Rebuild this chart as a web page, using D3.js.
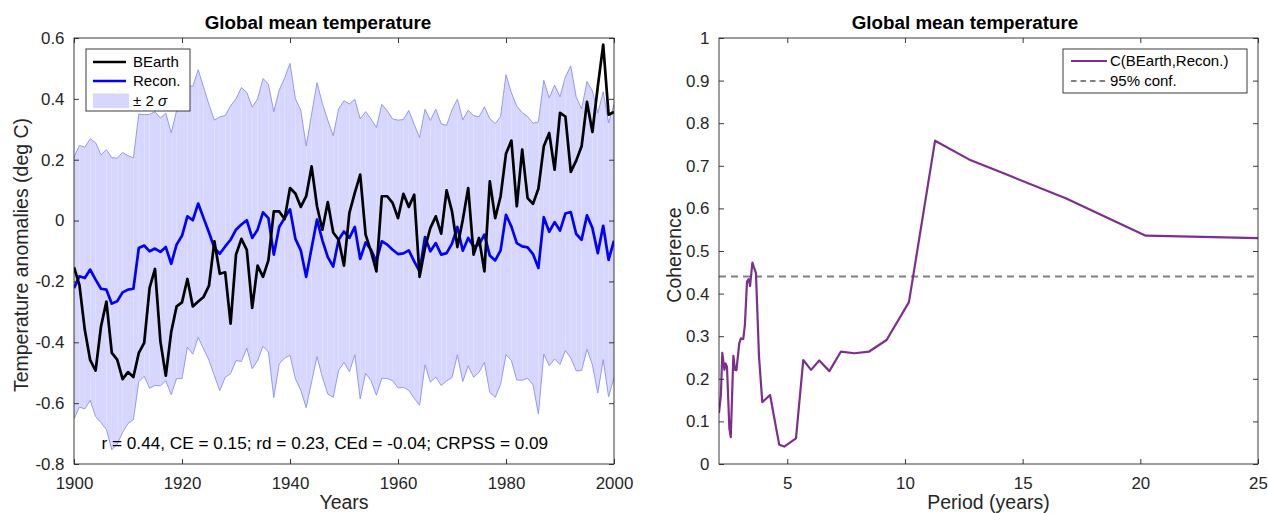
<!DOCTYPE html>
<html>
<head>
<meta charset="utf-8">
<script src="https://cdn.jsdelivr.net/npm/d3@7/dist/d3.min.js"></script>
<style>
  body { margin: 0; background: #fff; }
  svg { display: block; }
  text { font-family: "Liberation Sans", Arial, Helvetica, sans-serif; }
</style>
</head>
<body>
<svg id="fig" width="1268" height="513"></svg>
<script>
// ---- Left panel: annual global mean temperature anomalies, 1900-2000 ----
const firstYear = 1900;
const bearth = [
  -0.153,-0.211,-0.359,-0.459,-0.493,-0.348,-0.266,-0.435,-0.457,-0.521,
  -0.498,-0.514,-0.435,-0.402,-0.221,-0.159,-0.397,-0.510,-0.366,-0.282,
  -0.269,-0.192,-0.282,-0.266,-0.251,-0.214,-0.068,-0.175,-0.170,-0.339,
  -0.112,-0.060,-0.096,-0.287,-0.148,-0.185,-0.131, 0.030, 0.030, 0.005,
   0.107, 0.089, 0.045, 0.080, 0.178, 0.047,-0.030, 0.061,-0.039,-0.063,
  -0.148, 0.025, 0.091, 0.151,-0.046,-0.101,-0.167, 0.080, 0.080, 0.058,
   0.008, 0.088, 0.045, 0.085,-0.185,-0.090,-0.024, 0.014,-0.043, 0.099,
   0.030,-0.087, 0.003, 0.107,-0.112,-0.057,-0.167, 0.129, 0.008, 0.080,
   0.220, 0.263, 0.047, 0.233, 0.074, 0.055, 0.105, 0.244, 0.288, 0.167,
   0.354, 0.342, 0.160, 0.197, 0.244, 0.390, 0.291, 0.441, 0.578, 0.348,
   0.357
];
const recon = [
  -0.222,-0.183,-0.189,-0.161,-0.194,-0.224,-0.227,-0.273,-0.265,-0.236,
  -0.227,-0.224,-0.090,-0.082,-0.101,-0.092,-0.103,-0.087,-0.142,-0.079,
  -0.050, 0.014, 0.001, 0.056, 0.008,-0.039,-0.090,-0.109,-0.085,-0.063,
  -0.030,-0.013, 0.001,-0.057,-0.030, 0.027, 0.008,-0.112,-0.021, 0.008,
   0.037,-0.060,-0.098,-0.185,-0.090, 0.003,-0.065,-0.120,-0.151,-0.063,
  -0.036,-0.057,-0.021,-0.126,-0.072,-0.096,-0.134,-0.068,-0.079,-0.096,
  -0.110,-0.108,-0.098,-0.134,-0.167,-0.054,-0.101,-0.074,-0.112,-0.107,
  -0.076,-0.021,-0.099,-0.057,-0.085,-0.079,-0.046,-0.115,-0.131,-0.098,
   0.019,-0.020,-0.074,-0.085,-0.088,-0.110,-0.156, 0.011,-0.037,-0.005,
  -0.033, 0.023, 0.028,-0.044,-0.063, 0.017,-0.024,-0.107,-0.017,-0.129,
  -0.066
];
// two standard deviations of the reconstruction ensemble
const twoSigma = [
  0.43,0.43,0.43,0.43,0.45,0.44,0.46,0.48,0.47,0.46,
  0.44,0.43,0.44,0.43,0.45,0.45,0.44,0.44,0.43,0.44,
  0.47,0.43,0.44,0.44,0.43,0.42,0.42,0.45,0.43,0.44,
  0.43,0.45,0.42,0.43,0.43,0.44,0.44,0.47,0.45,0.46,
  0.48,0.46,0.46,0.43,0.44,0.45,0.45,0.45,0.43,0.43,
  0.43,0.44,0.42,0.46,0.43,0.43,0.44,0.45,0.44,0.43,
  0.44,0.44,0.46,0.45,0.44,0.42,0.43,0.44,0.43,0.42,
  0.44,0.42,0.43,0.42,0.43,0.42,0.42,0.45,0.45,0.44,
  0.46,0.44,0.45,0.44,0.43,0.43,0.48,0.45,0.44,0.45,
  0.44,0.45,0.48,0.45,0.43,0.44,0.45,0.46,0.44,0.45,
  0.45
];
const skillText = "r = 0.44, CE = 0.15; rd = 0.23, CEd = -0.04; CRPSS = 0.09";
const leftXTicks = [1900, 1920, 1940, 1960, 1980, 2000];
const leftYTicks = [-0.8, -0.6, -0.4, -0.2, 0, 0.2, 0.4, 0.6];
const leftYTickLabels = ["-0.8", "-0.6", "-0.4", "-0.2", "0", "0.2", "0.4", "0.6"];

// ---- Right panel: coherence between BEarth and the reconstruction ----
const coherencePeriod = [
  2.10,2.18,2.24,2.33,2.38,2.44,2.54,2.60,2.71,2.78,
  2.84,2.96,3.03,3.13,3.20,3.29,3.36,3.42,3.52,3.60,
  3.67,3.80,3.94,4.27,4.66,4.87,5.37,5.68,6.01,6.36,
  6.79,7.28,7.85,8.48,9.22,10.17,11.28,12.72,14.43,16.83,
  20.23,25.00
];
const coherenceValue = [
  0.120,0.162,0.261,0.221,0.236,0.228,0.084,0.063,0.254,0.221,
  0.220,0.283,0.295,0.293,0.326,0.428,0.434,0.418,0.473,0.459,
  0.448,0.252,0.145,0.162,0.045,0.041,0.060,0.244,0.221,0.243,
  0.218,0.264,0.260,0.264,0.291,0.380,0.759,0.715,0.677,0.624,
  0.536,0.530
];
const confLevel = 0.44;
const rightXTicks = [5, 10, 15, 20, 25];
const rightYTicks = [0, 0.1, 0.2, 0.3, 0.4, 0.5, 0.6, 0.7, 0.8, 0.9, 1];
const rightYTickLabels = ["0", "0.1", "0.2", "0.3", "0.4", "0.5", "0.6", "0.7", "0.8", "0.9", "1"];

// ---- styling ----
const AX = "#262626";
const BAND_FILL = "#d6d6ff";
const BAND_EDGE = "#8c8cff";
const PURPLE = "#7e2f8e";
const TICK_FONT = 16.9;
const LABEL_FONT = 19.5;
const TITLE_FONT = 18.8;
const LEGEND_FONT = 15;

const svg = d3.select("#fig");
const years = bearth.map((_, i) => firstYear + i);

const L = { left: 74, right: 614, top: 38, bottom: 464, titleX: 318 };
const R = { left: 719, right: 1258, top: 38, bottom: 464, titleX: 965 };

const xL = d3.scaleLinear().domain([1900, 2000]).range([L.left, L.right]);
const yL = d3.scaleLinear().domain([-0.8, 0.6]).range([L.bottom, L.top]);
const xR = d3.scaleLinear().domain([2.1, 25]).range([R.left, R.right]);
const yR = d3.scaleLinear().domain([0, 1]).range([R.bottom, R.top]);

function clip(id, box) {
  svg.append("clipPath").attr("id", id).append("rect")
    .attr("x", box.left).attr("y", box.top)
    .attr("width", box.right - box.left).attr("height", box.bottom - box.top);
}
clip("clipL", L);
clip("clipR", R);

function drawAxes(box, x, y, xt, yt, yLabels) {
  const g = svg.append("g");
  const styleAxis = sel => {
    sel.select(".domain").remove();
    sel.selectAll(".tick line").attr("stroke", AX).attr("stroke-width", 0.9);
    sel.selectAll(".tick text").attr("fill", AX).style("font-size", TICK_FONT + "px");
  };
  g.append("g").attr("transform", `translate(0,${box.bottom})`)
    .call(d3.axisBottom(x).tickValues(xt).tickFormat(d3.format("d"))
      .tickSizeInner(-5).tickSizeOuter(0).tickPadding(13.5))
    .call(styleAxis);
  g.append("g").attr("transform", `translate(0,${box.top})`)
    .call(d3.axisTop(x).tickValues(xt).tickFormat("").tickSizeInner(-5).tickSizeOuter(0))
    .call(styleAxis);
  g.append("g").attr("transform", `translate(${box.left},0)`)
    .call(d3.axisLeft(y).tickValues(yt).tickFormat((d, i) => yLabels[i])
      .tickSizeInner(-5).tickSizeOuter(0).tickPadding(9.5))
    .call(styleAxis);
  g.append("g").attr("transform", `translate(${box.right},0)`)
    .call(d3.axisRight(y).tickValues(yt).tickFormat("").tickSizeInner(-5).tickSizeOuter(0))
    .call(styleAxis);
  g.selectAll("g").attr("font-family", null);
  svg.append("rect")
    .attr("x", box.left).attr("y", box.top)
    .attr("width", box.right - box.left).attr("height", box.bottom - box.top)
    .attr("fill", "none").attr("stroke", AX).attr("stroke-width", 0.9);
}

// ================= left panel =================
const band = svg.append("g").attr("clip-path", "url(#clipL)");
const upper = recon.map((v, i) => v + twoSigma[i]);
const lower = recon.map((v, i) => v - twoSigma[i]);
// shaded ±2σ envelope, one quad per year interval
for (let i = 0; i < years.length - 1; i++) {
  const pts = [
    [xL(years[i]), yL(upper[i])], [xL(years[i + 1]), yL(upper[i + 1])],
    [xL(years[i + 1]), yL(lower[i + 1])], [xL(years[i]), yL(lower[i])]
  ];
  band.append("polygon").attr("points", pts.map(p => p.join(",")).join(" "))
    .attr("fill", BAND_FILL).attr("stroke", "none");
}
const yearLine = d3.line().x((d, i) => xL(years[i])).y(d => yL(d));
band.append("path").datum(upper).attr("d", yearLine)
  .attr("fill", "none").attr("stroke", BAND_EDGE).attr("stroke-width", 0.9);
band.append("path").datum(lower).attr("d", yearLine)
  .attr("fill", "none").attr("stroke", BAND_EDGE).attr("stroke-width", 0.9);

const series = svg.append("g").attr("clip-path", "url(#clipL)");
series.append("path").datum(recon).attr("d", yearLine)
  .attr("fill", "none").attr("stroke", "#0000ff").attr("stroke-width", 2.7)
  .attr("stroke-linejoin", "round");
series.append("path").datum(bearth).attr("d", yearLine)
  .attr("fill", "none").attr("stroke", "#000").attr("stroke-width", 2.7)
  .attr("stroke-linejoin", "round");

drawAxes(L, xL, yL, leftXTicks, leftYTicks, leftYTickLabels);

svg.append("text").attr("x", 101.5).attr("y", 449)
  .style("font-size", "17.2px").attr("fill", "#000").text(skillText);

// legend
const lg = svg.append("g");
lg.append("rect").attr("x", 86).attr("y", 49).attr("width", 104).attr("height", 62)
  .attr("fill", "#fff").attr("stroke", AX).attr("stroke-width", 0.9);
lg.append("line").attr("x1", 93).attr("x2", 126).attr("y1", 62).attr("y2", 62)
  .attr("stroke", "#000").attr("stroke-width", 2.7);
lg.append("line").attr("x1", 93).attr("x2", 126).attr("y1", 81).attr("y2", 81)
  .attr("stroke", "#0000ff").attr("stroke-width", 2.7);
lg.append("rect").attr("x", 93).attr("y", 93.5).attr("width", 36).attr("height", 14.5)
  .attr("fill", BAND_FILL);
lg.append("text").attr("x", 133).attr("y", 67.4).style("font-size", LEGEND_FONT + "px").text("BEarth");
lg.append("text").attr("x", 133).attr("y", 86.4).style("font-size", LEGEND_FONT + "px").text("Recon.");
const sig = lg.append("text").attr("x", 133).attr("y", 106).style("font-size", LEGEND_FONT + "px");
sig.append("tspan").text("± 2 ");
sig.append("tspan").attr("font-style", "italic").text("σ");

svg.append("text").attr("x", L.titleX).attr("y", 29.3)
  .attr("text-anchor", "middle").attr("font-weight", "bold")
  .style("font-size", TITLE_FONT + "px").attr("fill", "#000").text("Global mean temperature");
svg.append("text").attr("x", (L.left + L.right) / 2).attr("y", 509)
  .attr("text-anchor", "middle").style("font-size", LABEL_FONT + "px").attr("fill", AX).text("Years");
svg.append("text").attr("transform", `translate(27.5,255) rotate(-90)`)
  .attr("text-anchor", "middle").style("font-size", LABEL_FONT + "px").attr("fill", AX)
  .text("Temperature anomalies (deg C)");

// ================= right panel =================
const rg = svg.append("g").attr("clip-path", "url(#clipR)");
rg.append("line").attr("x1", R.left).attr("x2", R.right)
  .attr("y1", yR(confLevel)).attr("y2", yR(confLevel))
  .attr("stroke", "#808080").attr("stroke-width", 2).attr("stroke-dasharray", "7,5");
const cohLine = d3.line().x((d, i) => xR(coherencePeriod[i])).y(d => yR(d));
rg.append("path").datum(coherenceValue).attr("d", cohLine)
  .attr("fill", "none").attr("stroke", PURPLE).attr("stroke-width", 2.2)
  .attr("stroke-linejoin", "round");

drawAxes(R, xR, yR, rightXTicks, rightYTicks, rightYTickLabels);

const rl = svg.append("g");
rl.append("rect").attr("x", 1063).attr("y", 49).attr("width", 184).attr("height", 44)
  .attr("fill", "#fff").attr("stroke", AX).attr("stroke-width", 0.9);
rl.append("line").attr("x1", 1071).attr("x2", 1107).attr("y1", 61).attr("y2", 61)
  .attr("stroke", PURPLE).attr("stroke-width", 2.2);
rl.append("line").attr("x1", 1071).attr("x2", 1107).attr("y1", 81).attr("y2", 81)
  .attr("stroke", "#808080").attr("stroke-width", 2).attr("stroke-dasharray", "5.5,4");
rl.append("text").attr("x", 1110).attr("y", 66.4).style("font-size", LEGEND_FONT + "px").text("C(BEarth,Recon.)");
rl.append("text").attr("x", 1110).attr("y", 86.4).style("font-size", LEGEND_FONT + "px").text("95% conf.");

svg.append("text").attr("x", R.titleX).attr("y", 29.3)
  .attr("text-anchor", "middle").attr("font-weight", "bold")
  .style("font-size", TITLE_FONT + "px").attr("fill", "#000").text("Global mean temperature");
svg.append("text").attr("x", (R.left + R.right) / 2).attr("y", 509)
  .attr("text-anchor", "middle").style("font-size", LABEL_FONT + "px").attr("fill", AX).text("Period (years)");
svg.append("text").attr("transform", `translate(680.5,255) rotate(-90)`)
  .attr("text-anchor", "middle").style("font-size", LABEL_FONT + "px").attr("fill", AX)
  .text("Coherence");
</script>
</body>
</html>
